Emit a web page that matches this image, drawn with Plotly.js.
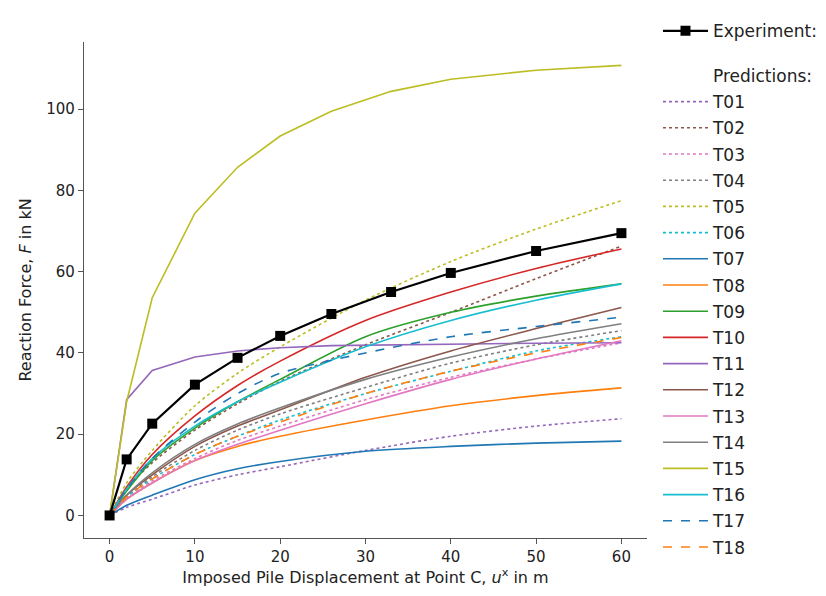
<!DOCTYPE html>
<html>
<head>
<meta charset="utf-8">
<script src="https://cdn.plot.ly/plotly-3.0.1.min.js"></script>
<style>html,body{margin:0;padding:0;background:#fff;}#chart{width:826px;height:596px;}</style>
</head>
<body>
<div id="chart"></div>
<script>
// Experiment displacement steps (m) and measured reaction force (kN)
const expX = [0, 2, 5, 10, 15, 20, 26, 33, 40, 50, 60];
const expY = [0, 13.8, 22.6, 32.2, 38.8, 44.2, 49.6, 55.0, 59.7, 65.1, 69.5];

// Prediction displacement grid (m)
const predX = [0, 2, 5, 10, 15, 20, 30, 40, 50, 60];

// Predicted reaction forces (kN)
const T01 = [0, 2.0, 4.0, 7.5, 10.0, 12.0, 16.0, 19.5, 22.0, 23.8];
const T02 = [0, 6.5, 13.0, 21.0, 27.5, 33.0, 42.0, 50.0, 58.3, 66.3];
const T03 = [0, 4.0, 8.5, 14.0, 18.5, 22.0, 28.5, 34.0, 38.5, 42.5];
const T04 = [0, 4.5, 9.5, 16.0, 21.0, 25.0, 31.5, 37.5, 42.0, 45.5];
const T05 = [0, 8.0, 16.0, 27.0, 35.0, 41.5, 53.0, 62.5, 70.5, 77.5];
const T06 = [0, 4.5, 9.0, 15.0, 19.5, 23.5, 30.0, 35.5, 40.5, 44.0];
const T07 = [0, 2.5, 5.0, 8.8, 11.5, 13.3, 15.8, 17.0, 17.8, 18.3];
const T08 = [0, 4.0, 8.0, 13.5, 17.0, 19.5, 23.5, 27.0, 29.5, 31.4];
const T09 = [0, 6.0, 13.5, 21.5, 28.0, 33.5, 44.0, 50.0, 54.0, 57.0];
const T10 = [0, 7.0, 15.0, 24.5, 32.0, 38.0, 48.0, 55.0, 60.8, 65.6];
const T12 = [0, 5.0, 10.0, 17.0, 22.0, 26.0, 34.0, 40.5, 46.0, 51.2];
const T13 = [0, 4.0, 8.0, 13.5, 17.5, 21.0, 27.5, 33.5, 38.5, 43.0];
const T14 = [0, 5.0, 10.5, 17.5, 22.5, 26.5, 33.5, 39.0, 43.5, 47.2];
const T16 = [0, 6.5, 14.0, 22.0, 28.0, 32.8, 41.5, 48.0, 53.0, 57.0];
const T17 = [0, 6.5, 14.0, 23.0, 30.0, 35.0, 40.0, 44.0, 46.5, 48.8];
const T18 = [0, 4.5, 9.0, 15.0, 19.5, 23.0, 30.0, 35.5, 40.0, 43.8];
// These two follow the experiment step grid
const T11 = [0, 28.5, 35.7, 39.0, 40.5, 41.3, 41.8, 42.0, 42.2, 42.4, 42.5];
const T15 = [0, 28.0, 53.6, 74.4, 85.7, 93.4, 99.5, 104.4, 107.4, 109.6, 110.8];

const C = ['#1f77b4','#ff7f0e','#2ca02c','#d62728','#9467bd','#8c564b','#e377c2','#7f7f7f','#bcbd22','#17becf'];

const preds = [
  ['T01', predX, T01, C[4], 'dot'],
  ['T02', predX, T02, C[5], 'dot'],
  ['T03', predX, T03, C[6], 'dot'],
  ['T04', predX, T04, C[7], 'dot'],
  ['T05', predX, T05, C[8], 'dot'],
  ['T06', predX, T06, C[9], 'dot'],
  ['T07', predX, T07, C[0], 'solid'],
  ['T08', predX, T08, C[1], 'solid'],
  ['T09', predX, T09, C[2], 'solid'],
  ['T10', predX, T10, C[3], 'solid'],
  ['T11', expX, T11, C[4], 'solid'],
  ['T12', predX, T12, C[5], 'solid'],
  ['T13', predX, T13, C[6], 'solid'],
  ['T14', predX, T14, C[7], 'solid'],
  ['T15', expX, T15, C[8], 'solid'],
  ['T16', predX, T16, C[9], 'solid'],
  ['T17', predX, T17, C[0], 'dash'],
  ['T18', predX, T18, C[1], 'dash']
];

const traces = [];
traces.push({
  x: [null], y: [null], mode: 'lines', name: 'Predictions:',
  line: {color: 'rgba(0,0,0,0)', width: 1.6}, legend: 'legend2', showlegend: true, hoverinfo: 'skip'
});
preds.forEach(p => {
  const straight = (p[0] === 'T11' || p[0] === 'T15');
  traces.push({
    x: p[1], y: p[2], mode: 'lines', name: p[0], legend: 'legend2',
    line: {color: p[3], dash: p[4], width: 1.6, shape: straight ? 'linear' : 'spline', smoothing: 0.8}
  });
});
traces.push({
  x: expX, y: expY, mode: 'lines+markers', name: 'Experiment:', legend: 'legend',
  line: {color: '#000', width: 2.2}, marker: {symbol: 'square', size: 10, color: '#000'}
});

const tickFont = {family: 'DejaVu Sans', size: 15, color: '#222'};
const titleFont = {family: 'DejaVu Sans', size: 16, color: '#222'};
const legFont = {family: 'DejaVu Sans', size: 17, color: '#222'};
const layout = {
  width: 826, height: 596,
  margin: {l: 84, r: 179, t: 42, b: 58, autoexpand: false},
  paper_bgcolor: '#fff', plot_bgcolor: '#fff',
  font: {family: 'DejaVu Sans', size: 15, color: '#222'},
  xaxis: {
    range: [-3, 63], tickvals: [0, 10, 20, 30, 40, 50, 60],
    showgrid: false, zeroline: false, showline: true, linecolor: '#555', linewidth: 1.2,
    ticks: 'outside', ticklen: 5, tickcolor: '#555', tickfont: tickFont,
    title: {text: 'Imposed Pile Displacement at Point C, <i>u</i><sup>x</sup> in m', font: titleFont, standoff: 5}
  },
  yaxis: {
    range: [-5.55, 116.55], tickvals: [0, 20, 40, 60, 80, 100],
    showgrid: false, zeroline: false, showline: true, linecolor: '#555', linewidth: 1.2,
    ticks: 'outside', ticklen: 5, tickcolor: '#555', tickfont: tickFont,
    title: {text: 'Reaction Force, <i>F</i> in kN', font: titleFont, standoff: 10}
  },
  legend: {
    x: 1.0195, xanchor: 'left', y: 1.058, yanchor: 'top', itemwidth: 45,
    bgcolor: 'rgba(0,0,0,0)', font: legFont
  },
  legend2: {
    x: 1.0195, xanchor: 'left', y: 0.968, yanchor: 'top', itemwidth: 45,
    traceorder: 'grouped', tracegroupgap: 1.1, maxheight: 700,
    bgcolor: 'rgba(0,0,0,0)', font: legFont
  },
  showlegend: true
};
// give each prediction its own legend group so the group gap spaces the rows
traces.forEach((t, i) => { if (t.legend === 'legend2') t.legendgroup = 'g' + i; });

Plotly.newPlot('chart', traces, layout, {displayModeBar: false, staticPlot: true});
</script>
</body>
</html>
